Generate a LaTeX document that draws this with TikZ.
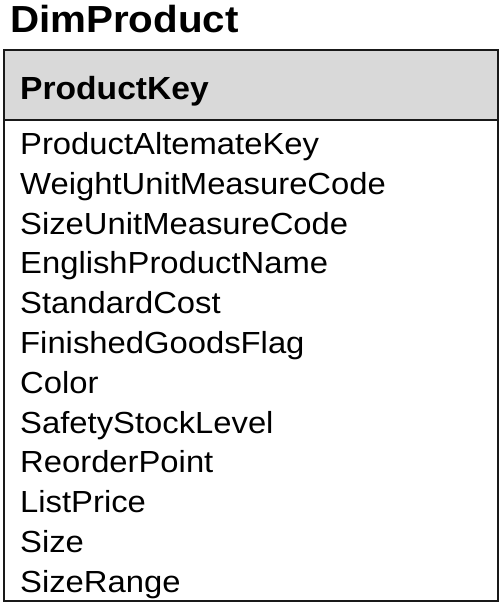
\documentclass[tikz,border=0pt]{standalone}
\usepackage{fontspec}
\setmainfont{Liberation Sans}
\newcommand{\wideA}[1]{\scalebox{1.075}[1]{#1}}
\newcommand{\wideH}[1]{\scalebox{1.05}[1]{#1}}
\newcommand{\wideT}[1]{\scalebox{1.07}[1]{#1}}
\begin{document}
\begin{tikzpicture}[x=1pt,y=-1pt,
  title/.style={anchor=base west,inner sep=0pt,font=\fontsize{37.7}{40}\selectfont\bfseries},
  headtext/.style={anchor=base west,inner sep=0pt,font=\fontsize{32}{34}\selectfont\bfseries},
  rowtext/.style={anchor=base west,inner sep=0pt,font=\fontsize{30.5}{32}\selectfont},
  tablebox/.style={draw=black!90,line width=2pt}]
\path[fill=white] (0,0) rectangle (502,606);
\useasboundingbox (0,0) rectangle (502,606);
\node[title] (t) at (10,32) {\wideT{DimProduct}};
\fill[gray!30] (4,50) rectangle (498,120);
\draw[tablebox] (4,120) -- (498,120);
\draw[tablebox] (4,50) rectangle (498,601);
\node[headtext] (pk) at (20,99) {\wideH{ProductKey}};
\foreach \txt [count=\i from 0] in {ProductAltemateKey,WeightUnitMeasureCode,SizeUnitMeasureCode,EnglishProductName,StandardCost,FinishedGoodsFlag,Color,SafetyStockLevel,ReorderPoint,ListPrice,Size,SizeRange}
  \node[rowtext] (r\i) at (20,154.5+\i*39.8) {\wideA{\txt}};
\end{tikzpicture}
\end{document}
